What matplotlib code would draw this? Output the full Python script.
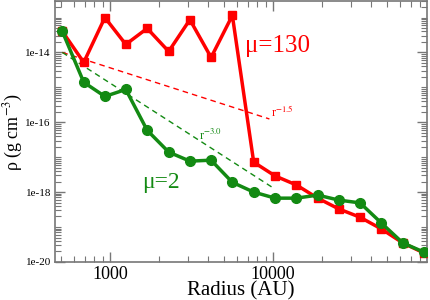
import matplotlib
matplotlib.use("Agg")
import matplotlib.pyplot as plt
from matplotlib.ticker import LogLocator, FixedLocator, NullFormatter

# radius of the sample points (AU), shared by both runs
radius = [510, 690, 930, 1250, 1690, 2290, 3090, 4170, 5630, 7610,
          10300, 13900, 18800, 25300, 34200, 46200, 62500, 84400]

# density for mu = 130
rho_mu130 = [4.0e-14, 5.2e-15, 1.0e-13, 1.7e-14, 4.9e-14, 1.07e-14, 8.7e-14,
             7.2e-15, 1.15e-13, 7.2e-18, 2.9e-18, 1.6e-18, 6.7e-19, 3.3e-19,
             1.9e-19, 8.8e-20, 3.5e-20, 1.8e-20]

# density for mu = 2
rho_mu2 = [4.0e-14, 1.4e-15, 5.5e-16, 8.7e-16, 5.9e-17, 1.4e-17, 7.7e-18,
           8.2e-18, 1.9e-18, 1.0e-18, 6.7e-19, 6.7e-19, 8.2e-19, 5.9e-19,
           4.9e-19, 1.3e-19, 3.5e-20, 1.9e-20]

# power-law guide lines: end points of r^-1.5 and r^-3.0
guide_r15_x = [510, 9500]
guide_r15_y = [1e-14, 1e-14 * (9500 / 510) ** -1.5]
guide_r30_x = [510, 10000]
guide_r30_y = [1e-14, 1e-14 * (10000 / 510) ** -3.0]

y_ticks = [1e-20, 1e-18, 1e-16, 1e-14]
y_labels = ["1e-20", "1e-18", "1e-16", "1e-14"]
x_ticks = [1000, 10000]
x_labels = ["1000", "10000"]

RED = "#ff0000"
GREEN = "#138a13"
SERIF = ["Liberation Serif", "DejaVu Serif"]

plt.rcParams["font.family"] = SERIF
plt.rcParams["mathtext.fontset"] = "stix"

fig = plt.figure(figsize=(4.3, 3.0), dpi=100)
ax = fig.add_axes([0.128, 0.127, 0.865, 0.87])

ax.plot(guide_r15_x, guide_r15_y, color=RED, lw=1.0, ls=(0, (4, 3)))
ax.plot(guide_r30_x, guide_r30_y, color=GREEN, lw=1.0, ls=(0, (4, 3)))

ax.plot(radius, rho_mu130, color=RED, lw=2.5, marker="s", ms=6, zorder=3)
ax.plot(radius, rho_mu2, color=GREEN, lw=2.5, marker="o", ms=7, zorder=4)

ax.set_xscale("log")
ax.set_yscale("log")
ax.set_xlim(460, 88000)
ax.set_ylim(1e-20, 3e-13)

ax.xaxis.set_major_locator(FixedLocator(x_ticks))
ax.set_xticklabels(x_labels)
ax.xaxis.set_minor_locator(LogLocator(base=10, subs=range(2, 10), numticks=20))
ax.xaxis.set_minor_formatter(NullFormatter())

ax.yaxis.set_major_locator(FixedLocator(y_ticks))
ax.set_yticklabels(y_labels)
ax.yaxis.set_minor_locator(LogLocator(base=10, subs=range(1, 10), numticks=20))
ax.yaxis.set_minor_formatter(NullFormatter())

ax.tick_params(which="both", direction="in", top=True, right=True, color="#777777")
ax.tick_params(which="major", length=7, width=1)
ax.tick_params(which="minor", length=4, width=0.8)
ax.tick_params(axis="x", labelsize=13, pad=3)
ax.tick_params(axis="y", labelsize=8, pad=3)
for sp in ax.spines.values():
    sp.set_color("#777777")
    sp.set_linewidth(1.2)

ax.set_xlabel("Radius (AU)", fontsize=15, labelpad=-1)
ax.set_ylabel("ρ (g cm$^{-3}$)", fontsize=13, labelpad=0)

ax.text(6700, 1.0e-14, "μ=130", color=RED, fontsize=18)
ax.text(1570, 1.3e-18, "μ=2", color=GREEN, fontsize=17)
ax.text(9700, 1.4e-16, "r$^{-1.5}$", color=RED, fontsize=9)
ax.text(3500, 3.1e-17, "r$^{-3.0}$", color=GREEN, fontsize=9)

fig.savefig("out.png", dpi=100)
